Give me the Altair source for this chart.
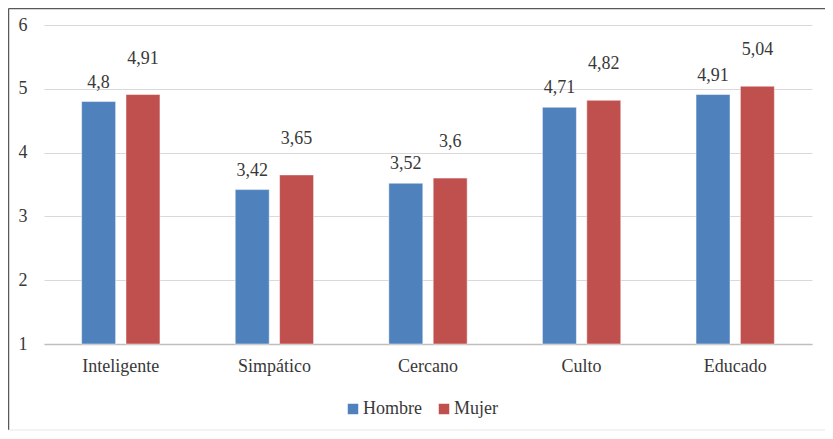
import altair as alt
import pandas as pd

categories = ["Inteligente", "Simpático", "Cercano", "Culto", "Educado"]
series = ["Hombre", "Mujer"]
hombre = [4.8, 3.42, 3.52, 4.71, 4.91]
mujer = [4.91, 3.65, 3.6, 4.82, 5.04]
colors = ["#4F81BD", "#C0504D"]
y_ticks = [1, 2, 3, 4, 5, 6]

def fmt(v):
    return ("%g" % v).replace(".", ",")

rows = []
for c, h, m in zip(categories, hombre, mujer):
    rows.append({"cat": c, "serie": "Hombre", "valor": h, "label": fmt(h)})
    rows.append({"cat": c, "serie": "Mujer", "valor": m, "label": fmt(m)})
df = pd.DataFrame(rows)

FONT = "Times New Roman, Liberation Serif, DejaVu Serif, serif"
TXT = "#383838"
W, H = 768, 319

x = alt.X("cat:N", sort=categories, title=None,
          scale=alt.Scale(paddingInner=0.49, paddingOuter=0.245),
          axis=alt.Axis(labelAngle=0, labelFont=FONT, labelFontSize=18, labelColor=TXT,
                        ticks=False, domainColor="#bfbfbf", domainWidth=1.5,
                        labelPadding=27, labelBaseline="alphabetic"))
y = alt.Y("valor:Q", title=None,
          scale=alt.Scale(domain=[1, 6], zero=False, nice=False),
          axis=alt.Axis(values=y_ticks, format="d", grid=True, gridColor="#d9d9d9", gridWidth=1,
                        domain=False, ticks=False, labelPadding=17, labelFont=FONT,
                        labelFontSize=18, labelColor=TXT))
xo = alt.XOffset("serie:N", sort=series, scale=alt.Scale(paddingInner=0.234, paddingOuter=0))
color = alt.Color("serie:N", sort=series, scale=alt.Scale(domain=series, range=colors),
                  legend=alt.Legend(title=None, orient="none", legendX=300, legendY=375,
                                    direction="horizontal", symbolType="square",
                                    symbolSize=110, symbolStrokeWidth=0, labelFont=FONT,
                                    labelFontSize=18, labelColor=TXT, padding=0,
                                    columnPadding=13, labelOffset=1))

base = alt.Chart(df).encode(x=x, xOffset=xo)
bars = base.mark_bar(stroke="#ffffff", strokeWidth=0.8, strokeOpacity=0.6).encode(
    y=y, y2=alt.datum(1), color=color)
lab_h = base.transform_filter(alt.datum.serie == "Hombre").mark_text(
    baseline="alphabetic", dy=-14, font=FONT, fontSize=18, color=TXT).encode(
    y=alt.Y("valor:Q"), text="label:N")
lab_m = base.transform_filter(alt.datum.serie == "Mujer").mark_text(
    baseline="alphabetic", dy=-31, font=FONT, fontSize=18, color=TXT).encode(
    y=alt.Y("valor:Q"), text="label:N")

frame_df = pd.DataFrame({"k": [0]})
left_line = alt.Chart(frame_df).mark_rule(color="#595959", strokeWidth=1.5).encode(
    x=alt.value(-35.5), y=alt.value(-16.5), y2=alt.value(H + 86))
top_line = alt.Chart(frame_df).mark_rule(color="#595959", strokeWidth=1.5).encode(
    x=alt.value(-35.5), x2=alt.value(W + 13), y=alt.value(-16.5))
bottom_line = alt.Chart(frame_df).mark_rule(color="#e6e6e6", strokeWidth=1).encode(
    x=alt.value(-35.5), x2=alt.value(W + 13), y=alt.value(H + 86))

chart = alt.layer(bars, lab_h, lab_m, left_line, top_line, bottom_line).properties(
    width=W, height=H,
    autosize=alt.AutoSizeParams(type="none"),
    padding={"left": 36, "top": 17, "right": 13, "bottom": 87},
    background="#ffffff",
).configure_view(strokeWidth=0)

chart.save("out.html", embed_options={"renderer": "svg", "actions": False})
